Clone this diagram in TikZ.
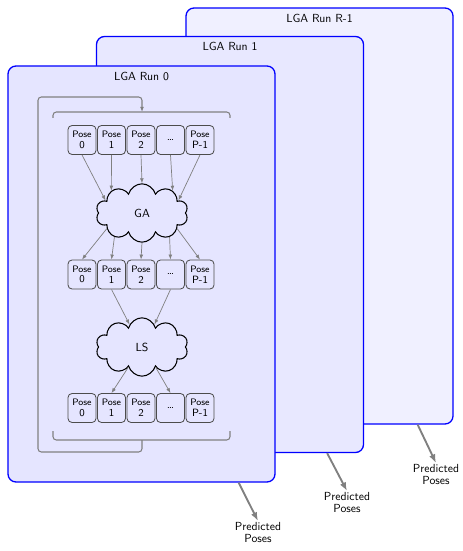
\documentclass[tikz,border=0pt]{standalone}
\usetikzlibrary{positioning, arrows.meta, shapes.symbols}
\tikzset{
  run/.style      = {draw=blue, line width=1.1pt, rounded corners=2.4mm,
                     minimum width=80.1mm, minimum height=124.8mm, inner sep=0pt},
  runtitle/.style = {font=\sffamily, inner sep=1pt},
  pose/.style     = {draw=black!70, line width=0.7pt, rounded corners=1.2mm,
                     minimum width=8.4mm, minimum height=8.7mm, align=center,
                     inner sep=0pt, font=\sffamily\small},
  algo/.style     = {cloud, cloud puffs=10, aspect=1.8, draw, line width=0.9pt,
                     minimum width=27.6mm, minimum height=17.5mm, inner sep=0pt,
                     fill=blue!10, font=\sffamily},
  arrow/.style    = {-{Latex[length=1.5mm]}, gray, line width=0.6pt},
  loopline/.style = {gray, line width=0.9pt, rounded corners=1mm},
  predarrow/.style= {-{Latex[length=2.6mm]}, gray, line width=1.6pt},
  predlbl/.style  = {font=\sffamily, align=center, inner sep=1pt},
}
\newcommand{\posetxt}[1]{{\footnotesize Pose}\\[-2pt]#1}

\begin{document}
\begin{tikzpicture}[x=0.3mm, y=-0.3mm, font=\sffamily]
  \useasboundingbox (0,0) rectangle (462,551);

  % the three runs, back to front
  \node[run, fill=blue!6]  at (319.5,216) (runR) {};
  \node[runtitle, below=1.5mm of runR.north] (titleR) {LGA Run R-1};
  \node[run, fill=blue!9]  at (230,244.5) (run1) {};
  \node[runtitle, below=1.5mm of run1.north] (title1) {LGA Run 1};
  \node[run, fill=blue!10] at (141.5,274) (run0) {};
  \node[runtitle, below=1.5mm of run0.north] (title0) {LGA Run 0};

  % poses before GA
  \node[pose] at ( 82,  140) (t0) {\posetxt{0}};
  \node[pose] at (111.5,140) (t1) {\posetxt{1}};
  \node[pose] at (141,  140) (t2) {\posetxt{2}};
  \node[pose] at (170.5,140) (t3) {\normalsize\dots};
  \node[pose] at (200,  140) (t4) {\posetxt{P-1}};

  \node[algo] at (142, 213) (GA) {GA};

  % poses after GA
  \node[pose] at ( 82,  274.5) (m0) {\posetxt{0}};
  \node[pose] at (111.5,274.5) (m1) {\posetxt{1}};
  \node[pose] at (141,  274.5) (m2) {\posetxt{2}};
  \node[pose] at (170.5,274.5) (m3) {\normalsize\dots};
  \node[pose] at (200,  274.5) (m4) {\posetxt{P-1}};

  \node[algo] at (142, 347) (LS) {LS};

  % poses after LS
  \node[pose] at ( 82,  408) (b0) {\posetxt{0}};
  \node[pose] at (111.5,408) (b1) {\posetxt{1}};
  \node[pose] at (141,  408) (b2) {\posetxt{2}};
  \node[pose] at (170.5,408) (b3) {\normalsize\dots};
  \node[pose] at (200,  408) (b4) {\posetxt{P-1}};

  \draw[arrow] (t0.south) -- (GA.161);
  \draw[arrow] (t1.south) -- (GA.144);
  \draw[arrow] (t2.south) -- (GA.90);
  \draw[arrow] (t3.south) -- (GA.36);
  \draw[arrow] (t4.south) -- (GA.19);
  \draw[arrow] (GA.204) -- (m0.north);
  \draw[arrow] (GA.221) -- (m1.north);
  \draw[arrow] (GA.270) -- (m2.north);
  \draw[arrow] (GA.319) -- (m3.north);
  \draw[arrow] (GA.336) -- (m4.north);
  \draw[arrow] (m1.south) -- (LS.119);
  \draw[arrow] (m3.south) -- (LS.61);
  \draw[arrow] (LS.236) -- (b1.north);
  \draw[arrow] (LS.304) -- (b3.north);

  % population brackets and the generation loop
  \coordinate (topbrace) at (142,112);
  \coordinate (botbrace) at (142,440);
  \draw[loopline] (53,118) -- (53,112) -- (230,112) -- (230,118);
  \draw[loopline] (53,431) -- (53,440) -- (230,440) -- (230,431);
  \draw[loopline, -{Latex[length=1.5mm]}] (botbrace) -- ++(0,12) -| (38,97) -| (topbrace);

  % outputs
  \node[predlbl, anchor=north] at (258,521) (pred0) {Predicted\\[-2pt]Poses};
  \node[predlbl, anchor=north] at (347,491) (pred1) {Predicted\\[-2pt]Poses};
  \node[predlbl, anchor=north] at (436,463) (predR) {Predicted\\[-2pt]Poses};
  \draw[predarrow] ([xshift=-11.1mm]run0.south east) -- (pred0.north);
  \draw[predarrow] ([xshift=-11.1mm]run1.south east) -- (pred1.north);
  \draw[predarrow] ([xshift=-10.8mm]runR.south east) -- (predR.north);
\end{tikzpicture}
\end{document}
